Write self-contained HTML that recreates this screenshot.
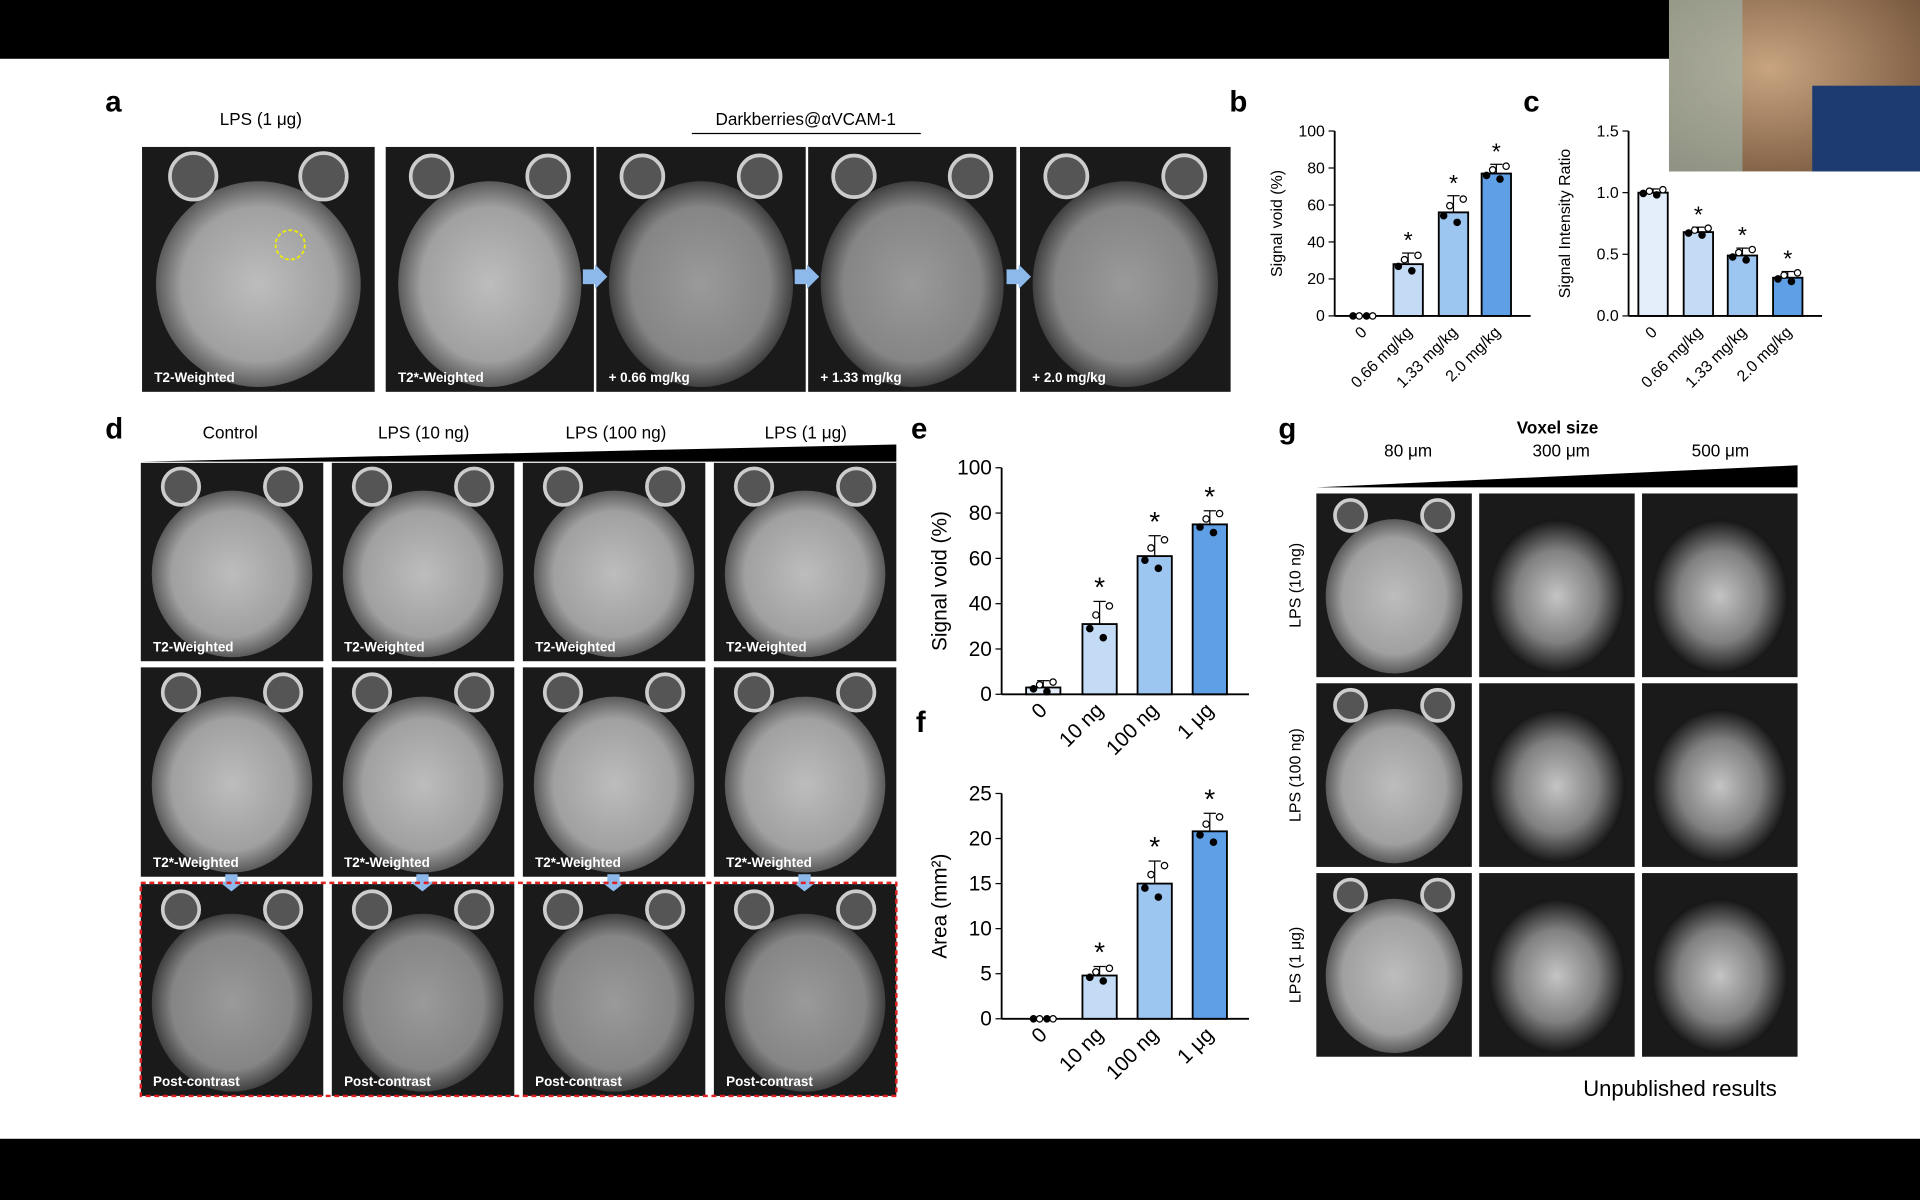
<!DOCTYPE html>
<html><head><meta charset="utf-8"><style>
html,body{margin:0;padding:0;background:#fff;width:1920px;height:1200px;overflow:hidden}
svg{display:block}
text{font-family:"Liberation Sans",Arial,sans-serif}
</style></head><body>
<svg id="s" width="1920" height="1200" viewBox="0 0 1568 980" xmlns="http://www.w3.org/2000/svg">
<defs>
<radialGradient id="br" cx="50%" cy="50%" r="50%"><stop offset="0" stop-color="#bdbdbd"/><stop offset="0.75" stop-color="#a0a0a0"/><stop offset="1" stop-color="#5a5a5a"/></radialGradient>
<radialGradient id="br2" cx="50%" cy="50%" r="50%"><stop offset="0" stop-color="#9a9a9a"/><stop offset="0.75" stop-color="#858585"/><stop offset="1" stop-color="#404040"/></radialGradient>
<radialGradient id="br3" cx="50%" cy="50%" r="50%"><stop offset="0" stop-color="#c4c4c4"/><stop offset="0.6" stop-color="#808080"/><stop offset="1" stop-color="#151515"/></radialGradient>
<radialGradient id="cam" cx="40%" cy="40%" r="70%"><stop offset="0" stop-color="#c8a480"/><stop offset="1" stop-color="#7a5a40"/></radialGradient>
</defs>
<rect width="1568" height="980" fill="#fff"/>
<rect width="1568" height="48" fill="#000"/>
<rect y="930" width="1568" height="50" fill="#000"/>
<rect x="1363" y="0" width="205" height="140" fill="url(#cam)"/>
<rect x="1363" y="0" width="60" height="140" fill="#9fb8b0" opacity="0.6"/>
<rect x="1480" y="70" width="88" height="70" fill="#1d3b6e"/>
<g id="g"></g>
<g font-size="24" font-weight="bold" fill="#000">
<text x="86" y="91">a</text><text x="1004" y="91">b</text><text x="1244" y="91">c</text>
<text x="86" y="358">d</text><text x="744" y="358">e</text><text x="1044" y="358">g</text><text x="748" y="598">f</text>
</g>
<g font-size="14" fill="#000" text-anchor="middle">
<text x="213" y="102">LPS (1 μg)</text>
<text x="658" y="102">Darkberries@αVCAM-1</text>
<text x="188" y="358">Control</text><text x="346" y="358">LPS (10 ng)</text><text x="503" y="358">LPS (100 ng)</text><text x="658" y="358">LPS (1 μg)</text>
<text x="1272" y="354" font-weight="bold">Voxel size</text>
<text x="1150" y="373">80 μm</text><text x="1275" y="373">300 μm</text><text x="1405" y="373">500 μm</text>
</g>
<line x1="565" y1="109" x2="752" y2="109" stroke="#000"/>
<polygon points="116,377 732,363 732,377" fill="#000"/>
<polygon points="1075,398 1468,380 1468,398" fill="#000"/>
<text x="1372" y="895" font-size="18" text-anchor="middle">Unpublished results</text>
</svg>
<script>
const g=document.getElementById('g');let h='';
function brain(x,y,w,hh,lab,fill,eyes){
 h+=`<rect x="${x}" y="${y}" width="${w}" height="${hh}" fill="#1a1a1a"/>`;
 h+=`<ellipse cx="${x+w/2}" cy="${y+hh*0.56}" rx="${w*0.44}" ry="${hh*0.42}" fill="url(#${fill})"/>`;
 if(eyes){h+=`<circle cx="${x+w*0.22}" cy="${y+hh*0.12}" r="${w*0.1}" fill="#555" stroke="#ccc" stroke-width="3"/><circle cx="${x+w*0.78}" cy="${y+hh*0.12}" r="${w*0.1}" fill="#555" stroke="#ccc" stroke-width="3"/>`;}
 if(lab)h+=`<text x="${x+10}" y="${y+hh-8}" font-size="11" font-weight="bold" fill="#fff">${lab}</text>`;
}
brain(116,120,190,200,'T2-Weighted','br',1);
h+='<circle cx="237" cy="200" r="12" fill="none" stroke="#ee0" stroke-width="1.5" stroke-dasharray="3,2"/>';
const ax=[[315,170,'T2*-Weighted','br'],[487,171,'+ 0.66 mg/kg','br2'],[660,170,'+ 1.33 mg/kg','br2'],[833,172,'+ 2.0 mg/kg','br2']];
ax.forEach(a=>brain(a[0],120,a[1],200,a[2],a[3],1));
[[476,226],[649,226],[822,226]].forEach(p=>h+=`<polygon points="${p[0]},${p[1]-6} ${p[0]+10},${p[1]-6} ${p[0]+10},${p[1]-10} ${p[0]+20},${p[1]} ${p[0]+10},${p[1]+10} ${p[0]+10},${p[1]+6} ${p[0]},${p[1]+6}" fill="#8cb8ea"/>`);
const dc=[115,271,427,583];
dc.forEach(x=>{brain(x,378,149,162,'T2-Weighted','br',1);brain(x,545,149,171,'T2*-Weighted','br',1);brain(x,722,149,173,'Post-contrast','br2',1);
 h+=`<polygon points="${x+69},714 ${x+79},714 ${x+79},720 ${x+84},720 ${x+74},728 ${x+64},720 ${x+69},720" fill="#8cb8ea"/>`;});
h+='<rect x="115" y="721" width="617" height="174" fill="none" stroke="#e02020" stroke-width="2" stroke-dasharray="4,3"/>';
[1075,1208,1341].forEach((x,i)=>[403,558,713].forEach(y=>brain(x,y,127,150,'',i?'br3':'br',i==0)));
[['LPS (10 ng)',478],['LPS (100 ng)',633],['LPS (1 μg)',788]].forEach(l=>h+=`<text transform="translate(1062,${l[1]}) rotate(-90)" font-size="13" text-anchor="middle">${l[0]}</text>`);
const cols=['#e3eefa','#c3dbf5','#9cc5f0','#5e9fe6'];
function chart(o){
 const {x0,x1,y0,y1,max,ticks,vals,cx,bw,lab,cats,ylab,fs,dec,err}=o;
 const sy=v=>y0-(v/max)*(y0-y1);
 h+=`<line x1="${x0}" y1="${y1}" x2="${x0}" y2="${y0}" stroke="#000" stroke-width="1.5"/><line x1="${x0}" y1="${y0}" x2="${x1}" y2="${y0}" stroke="#000" stroke-width="1.5"/>`;
 ticks.forEach(t=>{h+=`<line x1="${x0-5}" y1="${sy(t)}" x2="${x0}" y2="${sy(t)}" stroke="#000"/><text x="${x0-8}" y="${sy(t)+fs/3}" font-size="${fs}" text-anchor="end">${dec?t.toFixed(1):t}</text>`;});
 vals.forEach((v,i)=>{const c=cx[i];
  if(v>0){h+=`<rect x="${c-bw/2}" y="${sy(v)}" width="${bw}" height="${y0-sy(v)}" fill="${cols[i]}" stroke="#000" stroke-width="1.5"/>`;
  const e=err[i];h+=`<line x1="${c}" y1="${sy(v)}" x2="${c}" y2="${sy(v+e)}" stroke="#000"/><line x1="${c-5}" y1="${sy(v+e)}" x2="${c+5}" y2="${sy(v+e)}" stroke="#000"/>`;
  if(i>0)h+=`<text x="${c}" y="${sy(v+e)-4}" font-size="${fs+6}" text-anchor="middle">*</text>`;}
  [-8,-3,3,8].forEach((d,k)=>{const vv=Math.max(0,v+(k%2?1:-1)*err[i]*0.8*((k+1)/4));h+=`<circle cx="${c+d}" cy="${sy(vv)}" r="2.6" fill="${k%2?'#fff':'#000'}" stroke="#000"/>`;});
  h+=`<text transform="translate(${c+4},${y0+14}) rotate(-45)" font-size="${fs}" text-anchor="end">${cats[i]}</text>`;});
 h+=`<text transform="translate(${x0-lab},${(y0+y1)/2}) rotate(-90)" font-size="${fs}" text-anchor="middle">${ylab}</text>`;
}
chart({x0:1090,x1:1250,y0:258,y1:107,max:100,ticks:[0,20,40,60,80,100],vals:[0,28,56,77],err:[0,6,9,5],cx:[1113,1150,1187,1222],bw:24,lab:43,cats:['0','0.66 mg/kg','1.33 mg/kg','2.0 mg/kg'],ylab:'Signal void (%)',fs:13});
chart({x0:1330,x1:1488,y0:258,y1:107,max:1.5,ticks:[0,0.5,1.0,1.5],vals:[1.0,0.68,0.49,0.31],err:[0.03,0.04,0.06,0.05],cx:[1350,1387,1423,1460],bw:24,lab:48,cats:['0','0.66 mg/kg','1.33 mg/kg','2.0 mg/kg'],ylab:'Signal Intensity Ratio',fs:13,dec:1});
chart({x0:818,x1:1020,y0:567,y1:382,max:100,ticks:[0,20,40,60,80,100],vals:[3,31,61,75],err:[3,10,9,6],cx:[852,898,943,988],bw:28,lab:45,cats:['0','10 ng','100 ng','1 μg'],ylab:'Signal void (%)',fs:17});
chart({x0:818,x1:1020,y0:832,y1:648,max:25,ticks:[0,5,10,15,20,25],vals:[0,4.8,15,20.8],err:[0,1,2.5,2],cx:[852,898,943,988],bw:28,lab:45,cats:['0','10 ng','100 ng','1 μg'],ylab:'Area (mm²)',fs:17});
g.innerHTML=h;
</script>
</body></html>
